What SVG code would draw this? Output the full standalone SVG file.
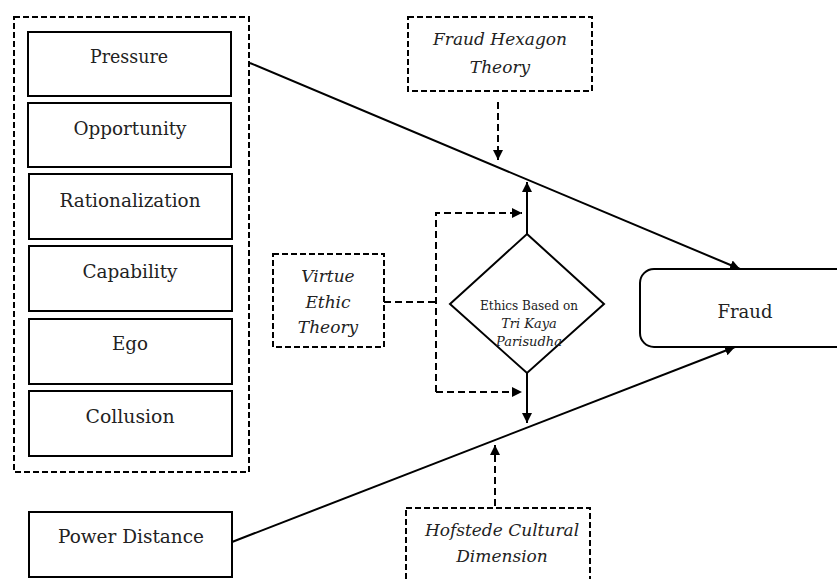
<svg xmlns="http://www.w3.org/2000/svg" width="837" height="579" viewBox="0 0 837 579">
<defs>
<style>
.box{fill:#fff;stroke:#000;stroke-width:2}
.dbox{fill:#fff;stroke:#000;stroke-width:2;stroke-dasharray:6 3}
.t{font-family:"DejaVu Serif","Liberation Serif",serif;font-size:18px;fill:#222;text-anchor:middle}
.it{font-family:"DejaVu Serif","Liberation Serif",serif;font-style:italic;font-size:17px;fill:#222;text-anchor:middle}
.ln{fill:none;stroke:#000;stroke-width:2}
.dl{fill:none;stroke:#000;stroke-width:2;stroke-dasharray:7 4}
</style>
<marker id="ah" viewBox="0 0 10 10" refX="10" refY="5" markerWidth="10" markerHeight="10" markerUnits="userSpaceOnUse" orient="auto">
<path d="M0,0 L10,5 L0,10 z" fill="#000"/>
</marker>
</defs>
<rect width="837" height="579" fill="#fff"/>
<g id="factors">
<rect class="dbox" x="14" y="17" width="235" height="455"/>
</g>
<g id="pressure"><rect class="box" x="28" y="32" width="203" height="64"/><text class="t" x="129" y="63" textLength="78" lengthAdjust="spacingAndGlyphs">Pressure</text></g>
<g id="opportunity"><rect class="box" x="28" y="103" width="203" height="64"/><text class="t" x="130" y="135" textLength="113" lengthAdjust="spacingAndGlyphs">Opportunity</text></g>
<g id="rationalization"><rect class="box" x="29" y="174" width="203" height="65"/><text class="t" x="130" y="207" textLength="141" lengthAdjust="spacingAndGlyphs">Rationalization</text></g>
<g id="capability"><rect class="box" x="29" y="246" width="203" height="65"/><text class="t" x="130" y="278" textLength="95" lengthAdjust="spacingAndGlyphs">Capability</text></g>
<g id="ego"><rect class="box" x="29" y="319" width="203" height="65"/><text class="t" x="130" y="350" textLength="36" lengthAdjust="spacingAndGlyphs">Ego</text></g>
<g id="collusion"><rect class="box" x="29" y="391" width="203" height="65"/><text class="t" x="130" y="423" textLength="89" lengthAdjust="spacingAndGlyphs">Collusion</text></g>
<g id="power-distance"><rect class="box" x="29" y="512" width="203" height="65"/><text class="t" x="131" y="543" textLength="146" lengthAdjust="spacingAndGlyphs">Power Distance</text></g>
<g id="fraud-hexagon"><rect class="dbox" x="408" y="17" width="184" height="74"/><text class="it" x="500" y="45">Fraud Hexagon</text><text class="it" x="500" y="73">Theory</text></g>
<g id="virtue-ethic"><rect class="dbox" x="273" y="254" width="111" height="93"/><text class="it" x="328" y="282">Virtue</text><text class="it" x="328" y="308">Ethic</text><text class="it" x="328" y="333">Theory</text></g>
<g id="hofstede"><rect class="dbox" x="406" y="508" width="184" height="90"/><text class="it" x="502" y="536">Hofstede Cultural</text><text class="it" x="502" y="562">Dimension</text></g>
<g id="fraud"><rect class="box" x="640" y="269" width="220" height="78" rx="14"/><text class="t" x="745" y="318" style="font-size:19px" textLength="55" lengthAdjust="spacingAndGlyphs">Fraud</text></g>
<g id="connectors">
<path class="ln" d="M250,63 L740,269" marker-end="url(#ah)"/>
<path class="ln" d="M232,542 L735,347" marker-end="url(#ah)"/>
<path class="ln" d="M527,234 L527,182" marker-end="url(#ah)"/>
<path class="ln" d="M527,373 L527,423" marker-end="url(#ah)"/>
<path class="dl" d="M498,102 L498,160" marker-end="url(#ah)"/>
<path class="dl" d="M495,506 L495,445" marker-end="url(#ah)"/>
<path class="dl" d="M384,302 L436,302"/>
<path class="dl" d="M436,392 L436,213 L522,213" marker-end="url(#ah)"/>
<path class="dl" d="M436,392 L522,392" marker-end="url(#ah)"/>
</g>
<g id="ethics">
<path class="box" d="M527,234 L604,304 L527,373 L450,304 Z"/>
<text class="t" x="529" y="310" style="font-size:13px" textLength="98" lengthAdjust="spacingAndGlyphs">Ethics Based on</text>
<text class="t" x="529" y="328" style="font-size:13px;font-style:italic">Tri Kaya</text>
<text class="t" x="529" y="346" style="font-size:13px;font-style:italic">Parisudha</text>
</g>
</svg>
